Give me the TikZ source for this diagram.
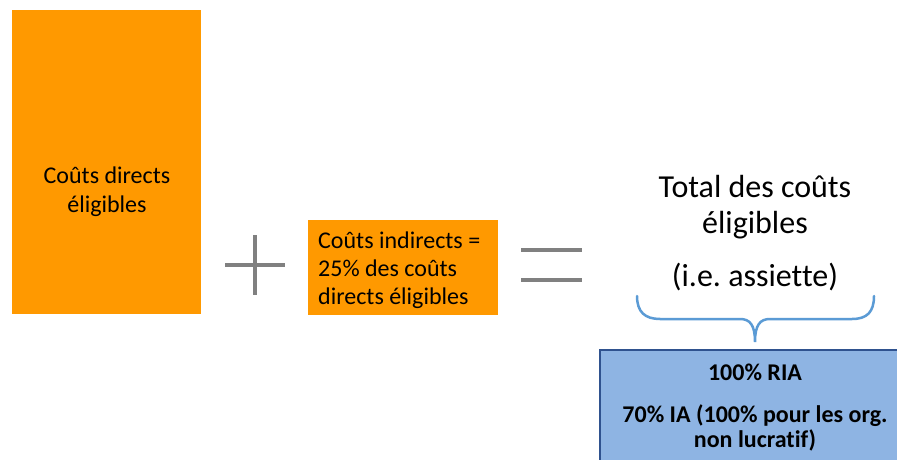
\documentclass[tikz,border=0pt]{standalone}
\usepackage{fontspec}
\setmainfont{Carlito}[Ligatures={NoCommon,NoContextual}]
\frenchspacing
\definecolor{orng}{RGB}{255,153,0}
\definecolor{opgray}{RGB}{128,128,128}
\definecolor{bracecol}{RGB}{91,155,213}
\definecolor{boxblue}{RGB}{142,180,227}
\definecolor{boxedge}{RGB}{47,82,143}
\tikzset{
  orbox/.style={rectangle, fill=orng, draw=none, inner sep=0pt},
  opline/.style={draw=opgray, line width=4pt},
  txt/.style={inner sep=0pt, text=black},
  bluebox/.style={rectangle, fill=boxblue, draw=none, inner sep=0pt},
  boxedgeline/.style={draw=boxedge, line width=2pt},
  bracestyle/.style={draw=bracecol, line width=2.5pt, line cap=round}
}
\begin{document}
\begin{tikzpicture}[x=1pt,y=-1pt]
\useasboundingbox (0,0) rectangle (897,460);
\clip (0,0) rectangle (897,460);
\fill[white] (0,0) rectangle (897,460);
% big orange box
\node[orbox, minimum width=189pt, minimum height=304pt] (direct) at (106.5,162) {};
\node[txt, font=\fontsize{24}{29}\selectfont, align=center] (directtxt) at (107,192) {Coûts directs\\éligibles};
% plus
\coordinate (plt) at (255,235); \coordinate (plb) at (255,295);
\coordinate (pll) at (225,265); \coordinate (plr) at (285,265);
\draw[opline] (plt) -- (plb);
\draw[opline] (pll) -- (plr);
% small orange box
\node[orbox, minimum width=190pt, minimum height=95pt] (indirect) at (403,267.5) {};
\node[txt, font=\fontsize{24}{28}\selectfont, align=left, anchor=west] (indirecttxt) at (318,270) {Coûts indirects =\\25\% des coûts\\directs éligibles};
% equals
\coordinate (e1l) at (521,250); \coordinate (e1r) at (582,250);
\coordinate (e2l) at (521,280); \coordinate (e2r) at (582,280);
\draw[opline] (e1l) -- (e1r);
\draw[opline] (e2l) -- (e2r);
% total text
\node[txt, font=\fontsize{32}{36}\selectfont, align=center] (total) at (755,207) {Total des coûts\\éligibles};
\node[txt, font=\fontsize{32}{36}\selectfont] (assiette) at (755,277) {(i.e. assiette)};
% brace
\coordinate (bl) at (637,296);
\coordinate (btip) at (755,342);
\coordinate (br) at (874,296);
\draw[bracestyle] (bl) .. controls (637,312) and (645,319) .. (660,319) -- (740,319)
  .. controls (750,319) and (755,325) .. (btip)
  .. controls (755,325) and (760,319) .. (770,319) -- (852,319)
  .. controls (867,319) and (874,312) .. (br);
% blue box
\node[bluebox, anchor=north west, minimum width=360pt, minimum height=160pt] (rates) at (600,350) {};
\draw[boxedgeline] (rates.south west) -- (rates.north west) -- (rates.north east);
\node[txt, font=\fontsize{24}{25}\selectfont\bfseries] (ria) at (755,372) {100\% RIA};
\node[txt, font=\fontsize{24}{25}\selectfont\bfseries, align=center] (ia) at (755,428) {70\% IA (100\% pour les org.\\non lucratif)};
\end{tikzpicture}
\end{document}
